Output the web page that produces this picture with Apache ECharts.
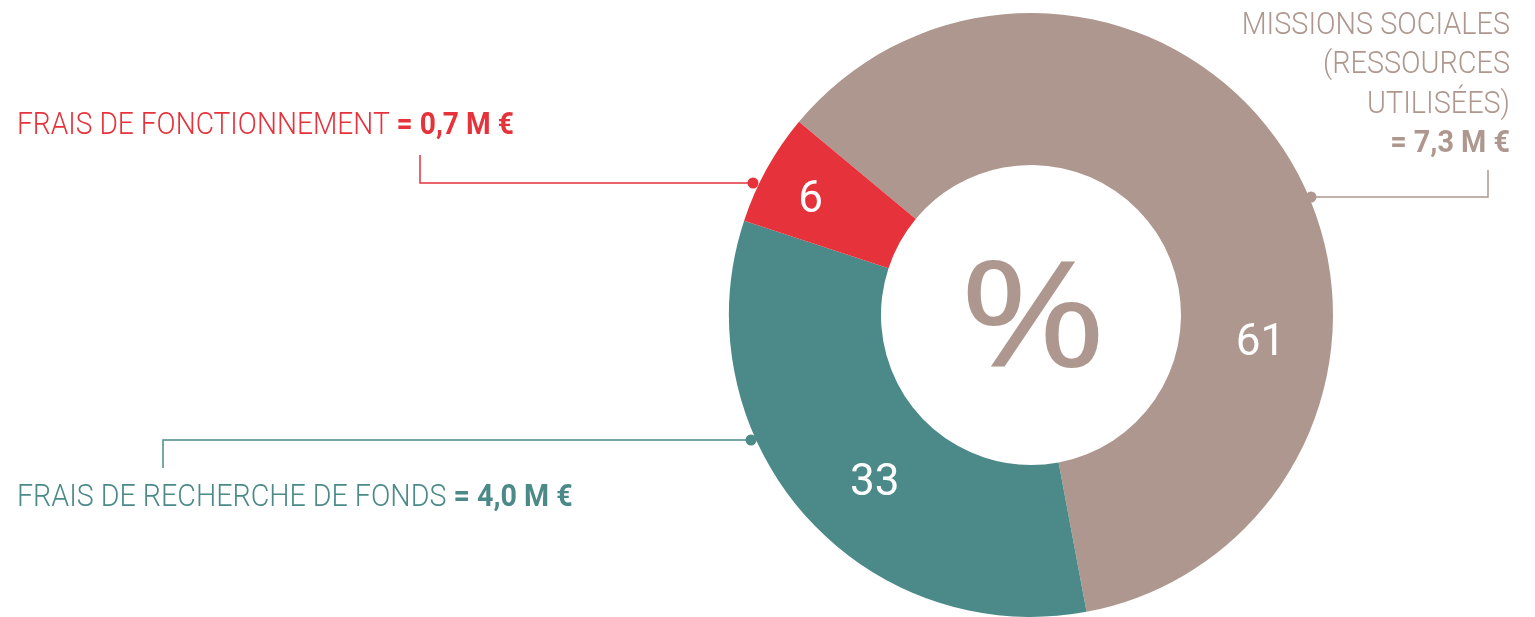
<!DOCTYPE html>
<html><head><meta charset="utf-8">
<script src="https://cdn.jsdelivr.net/npm/echarts@6/dist/echarts.min.js"></script>
<style>html,body{margin:0;padding:0;background:#fff}#c{width:1535px;height:617px}</style>
</head><body><div id="c"></div>
<script>
const categories = ['MISSIONS SOCIALES (RESSOURCES UTILISÉES)', 'FRAIS DE RECHERCHE DE FONDS', 'FRAIS DE FONCTIONNEMENT'];
const brownLines = ['MISSIONS SOCIALES', '(RESSOURCES', 'UTILISÉES)'];
const percents = [61, 33, 6];
const amounts = ['7,3', '4,0', '0,7'];
const colors = ['#AE978E', '#4B8A88', '#E5323B'];

const chart = echarts.init(document.getElementById('c'));
const cx = 1031, cy = 315, r0 = 150, r1 = 302;
const labelShift = [[32, 145], [16, 18], [-20, -3]];
const FONT = 'Roboto';
function light(color){return {fontFamily: FONT, fontWeight: 300, fontSize: 32, fill: color};}
function bold(color){return {fontFamily: FONT, fontWeight: 700, fontSize: 32, fill: color};}

const graphics = [
  {type:'text', x:cx + 2, y:cy + 10, scaleX:1.22, silent:true, style:{text:'%', fontFamily:'Noto Sans', fontSize:146, fill:colors[0], align:'center', verticalAlign:'middle'}},
  // red leader
  {type:'polyline', silent:true, shape:{points:[[753,183],[420,183],[420,155]]}, style:{stroke:colors[2], lineWidth:1.5, fill:null}},
  {type:'circle', silent:true, shape:{cx:753, cy:183, r:5.5}, style:{fill:colors[2]}},
  {type:'text', x:17, y:142, scaleX:0.88, silent:true, style:{text:'{a|'+categories[2]+' }{b|= '+amounts[2]+' M €}', verticalAlign:'bottom', align:'left', rich:{a:light(colors[2]), b:bold(colors[2])}}},
  // teal leader
  {type:'polyline', silent:true, shape:{points:[[751,440],[163,440],[163,468]]}, style:{stroke:colors[1], lineWidth:1.5, fill:null}},
  {type:'circle', silent:true, shape:{cx:751, cy:440, r:5.5}, style:{fill:colors[1]}},
  {type:'text', x:17, y:514, scaleX:0.895, silent:true, style:{text:'{a|'+categories[1]+' }{b|= '+amounts[1]+' M €}', verticalAlign:'bottom', align:'left', rich:{a:light(colors[1]), b:bold(colors[1])}}},
  // brown leader
  {type:'polyline', silent:true, shape:{points:[[1311,197],[1488,197],[1488,170]]}, style:{stroke:colors[0], lineWidth:1.5, fill:null}},
  {type:'circle', silent:true, shape:{cx:1311, cy:197, r:5.5}, style:{fill:colors[0]}},
  {type:'text', x:1510, y:6, scaleX:0.9, silent:true, style:{text: brownLines.map(l => '{a|'+l+'}').join('\n') + '\n{b|= '+amounts[0]+' M €}', align:'right', verticalAlign:'top', rich:{a:Object.assign(light(colors[0]),{lineHeight:39.5, align:'right'}), b:Object.assign(bold(colors[0]),{lineHeight:39.5, align:'right'})}}}
];

chart.setOption({
  animation: false,
  series: [{
    type: 'pie',
    center: [cx, cy],
    radius: [r0, r1],
    startAngle: 140.2,
    clockwise: true,
    silent: true,
    avoidLabelOverlap: false,
    label: {show: true, position: 'inside', color: '#fff', fontFamily: FONT, fontSize: 44, fontWeight: 400, formatter: p => p.value},
    labelLine: {show: false},
    labelLayout: p => ({dx: labelShift[p.dataIndex][0], dy: labelShift[p.dataIndex][1]}),
    itemStyle: {borderWidth: 0},
    emphasis: {disabled: true},
    data: percents.map((v, i) => ({value: v, name: categories[i], itemStyle: {color: colors[i]}}))
  }],
  graphic: graphics
});
</script></body></html>
